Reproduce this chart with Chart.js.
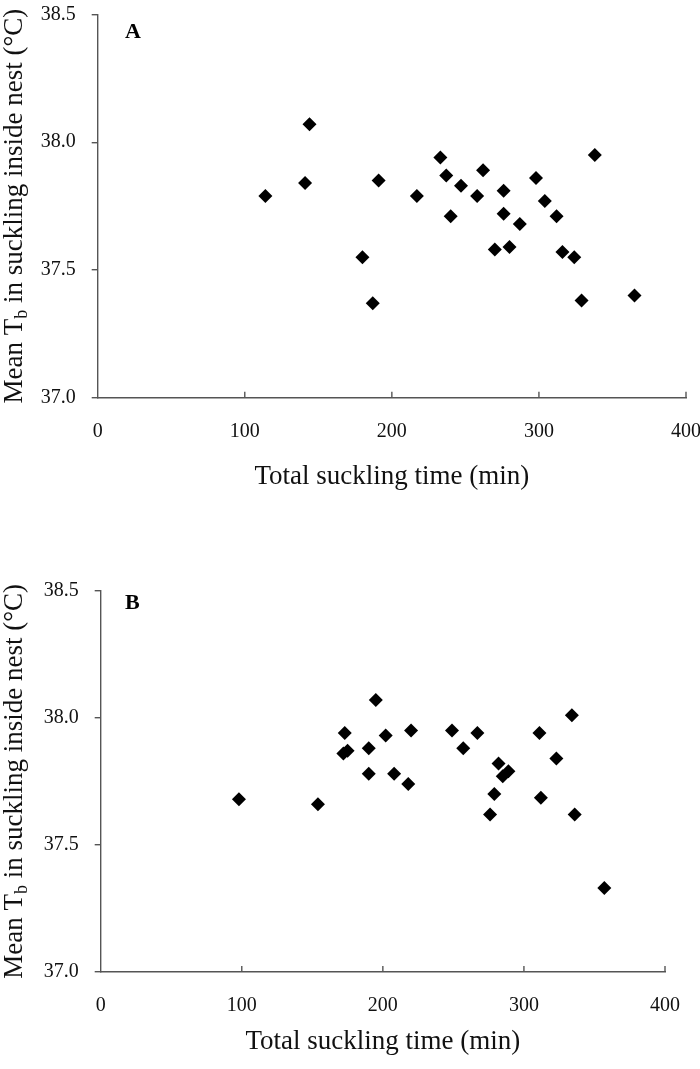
<!DOCTYPE html>
<html>
<head>
<meta charset="utf-8">
<script src="https://cdn.jsdelivr.net/npm/chart.js@4.4.1/dist/chart.umd.min.js"></script>
<style>
  body { margin: 0; background: #fff; }
  #wrap { position: relative; width: 700px; height: 1069px; }
  .panel { position: absolute; left: 0; width: 700px; }
</style>
</head>
<body>
<div id="wrap">
  <div class="panel" style="top:0;height:534px"><canvas id="chartA" width="700" height="534"></canvas></div>
  <div class="panel" style="top:534px;height:535px"><canvas id="chartB" width="700" height="535"></canvas></div>
</div>
<script>
// panel A : total suckling time (min) vs mean Tb (°C)
const timeA = [114, 141, 144, 180, 187, 191, 217, 233, 237, 240, 247, 258, 262,
               270, 276, 276, 280, 287, 298, 304, 312, 316, 324, 329, 338, 365];
const tbA   = [37.79, 37.84, 38.07, 37.55, 37.37, 37.85, 37.79, 37.94, 37.87, 37.71, 37.83, 37.79, 37.89,
               37.58, 37.81, 37.72, 37.59, 37.68, 37.86, 37.77, 37.71, 37.57, 37.55, 37.38, 37.95, 37.40];

// panel B
const timeB = [98, 154, 172, 175, 173, 190, 190, 195, 202, 208, 218, 220, 249,
               257, 267, 276, 279, 282, 285, 289, 311, 312, 323, 334, 336, 357];
const tbB   = [37.68, 37.66, 37.86, 37.87, 37.94, 37.88, 37.78, 38.07, 37.93, 37.78, 37.74, 37.95, 37.95,
               37.88, 37.94, 37.62, 37.70, 37.82, 37.77, 37.79, 37.94, 37.685, 37.84, 38.01, 37.62, 37.33];

const xTickValues = [0, 100, 200, 300, 400];
const yTickValues = [37.0, 37.5, 38.0, 38.5];

const FONT = '"Liberation Serif", "Times New Roman", serif';
const AXIS = '#555';
const TEXT = '#111';

// draws inward x ticks, panel letter and the y title (with subscript b)
const panelPlugin = {
  id: 'panelText',
  afterDraw(chart, args, opts) {
    const { ctx, chartArea, scales } = chart;
    ctx.save();
    ctx.strokeStyle = AXIS;
    ctx.lineWidth = 1.4;
    xTickValues.forEach(v => {
      if (v === 0) return;
      const px = scales.x.getPixelForValue(v);
      ctx.beginPath();
      ctx.moveTo(px, chartArea.bottom);
      ctx.lineTo(px, chartArea.bottom - 6);
      ctx.stroke();
    });

    ctx.fillStyle = '#000';
    ctx.font = 'bold 22px ' + FONT;
    ctx.textBaseline = 'middle';
    ctx.textAlign = 'left';
    ctx.fillText(opts.letter, opts.letterX, opts.letterY);

    // y title
    const main = '27px ' + FONT;
    const sub = '18px ' + FONT;
    const parts = [['Mean T', main, 0], ['b', sub, 7], [' in suckling inside nest (°C)', main, 0]];
    let total = 0;
    parts.forEach(p => { ctx.font = p[1]; total += ctx.measureText(p[0]).width; });
    const cy = (chartArea.top + chartArea.bottom) / 2;
    ctx.translate(opts.titleX, cy);
    ctx.rotate(-Math.PI / 2);
    ctx.fillStyle = TEXT;
    let x = -total / 2;
    parts.forEach(p => {
      ctx.font = p[1];
      ctx.fillText(p[0], x, p[2]);
      x += ctx.measureText(p[0]).width;
    });
    ctx.restore();
  }
};

function makePanel(id, letter, times, temps, box) {
  const points = times.map((t, i) => ({ x: t, y: temps[i] }));
  return new Chart(document.getElementById(id), {
    type: 'scatter',
    data: {
      datasets: [{
        data: points,
        pointStyle: 'rectRot',
        pointRadius: 7,
        pointHoverRadius: 7,
        backgroundColor: '#000',
        borderColor: '#000',
        borderWidth: 0
      }]
    },
    options: {
      responsive: false,
      animation: false,
      layout: { padding: { left: 0, right: 700 - box.right, top: box.top, bottom: 0 } },
      plugins: {
        legend: { display: false },
        tooltip: { enabled: false },
        panelText: { letter: letter, letterX: box.letterX, letterY: box.letterY, titleX: 15 }
      },
      scales: {
        x: {
          type: 'linear',
          min: 0,
          max: 400,
          afterBuildTicks: s => { s.ticks = xTickValues.map(v => ({ value: v })); },
          afterFit: s => { s.height = box.h - box.bottom; s.paddingLeft = 0; s.paddingRight = 0; },
          ticks: { padding: 22, color: TEXT, font: { family: FONT, size: 20 }, maxRotation: 0 },
          grid: { drawOnChartArea: false, drawTicks: false },
          border: { color: AXIS, width: 1.4 },
          title: {
            display: true,
            text: 'Total suckling time (min)',
            color: TEXT,
            font: { family: FONT, size: 27, lineHeight: 1.2 },
            padding: { top: 0, bottom: box.titlePad }
          }
        },
        y: {
          type: 'linear',
          min: 37,
          max: 38.5,
          afterBuildTicks: s => { s.ticks = yTickValues.map(v => ({ value: v })); },
          afterFit: s => { s.width = box.left; s.paddingTop = 0; s.paddingBottom = 0; },
          ticks: { padding: 16, color: TEXT, font: { family: FONT, size: 20 }, callback: v => v.toFixed(1) },
          grid: { drawOnChartArea: false, tickLength: 6, color: AXIS, lineWidth: 1.4 },
          border: { color: AXIS, width: 1.4 }
        }
      }
    },
    plugins: [panelPlugin]
  });
}

makePanel('chartA', 'A', timeA, tbA,
  { left: 97.7, right: 686, top: 14.5, bottom: 397.7, h: 534, titlePad: 41, letterX: 125, letterY: 32 });
makePanel('chartB', 'B', timeB, tbB,
  { left: 100.7, right: 665, top: 56.7, bottom: 438, h: 535, titlePad: 11, letterX: 125, letterY: 69 });
</script>
</body>
</html>
